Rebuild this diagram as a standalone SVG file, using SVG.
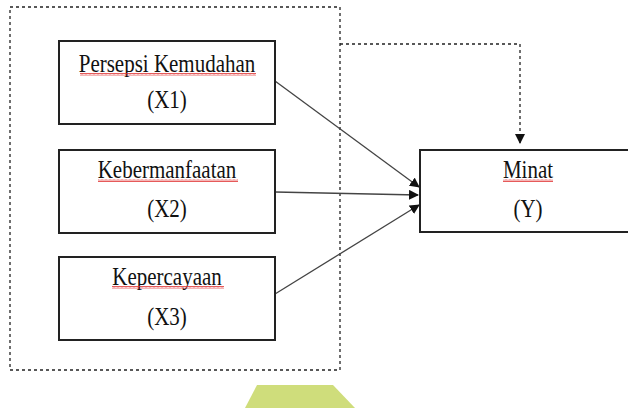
<svg xmlns="http://www.w3.org/2000/svg" width="628" height="408" viewBox="0 0 628 408">
<style>
.box{fill:#fff;stroke:#222;stroke-width:2}
.t{font-family:"Liberation Serif","Times New Roman",serif;font-size:21px;fill:#111;text-anchor:middle}
.dash{fill:none;stroke:#222;stroke-width:1.3;stroke-dasharray:3,3}
.arr{fill:none;stroke:#444;stroke-width:1.3}
</style>
<defs>
<marker id="ah" markerWidth="10" markerHeight="10" refX="9" refY="5" orient="auto" markerUnits="userSpaceOnUse">
<path d="M0,0 L10,5 L0,10 z" fill="#111"/>
</marker>
<pattern id="wave" width="4" height="3" patternUnits="userSpaceOnUse">
<path d="M0,2.5 L1,0.5 L2,2.5 L3,0.5 L4,2.5" fill="none" stroke="#e03030" stroke-width="0.8"/>
</pattern>
</defs>
<rect x="10" y="7" width="330" height="363" class="dash"/>
<polygon points="257,385 333,385 355,408 245,408" fill="#cfdd7b"/>
<g id="connectors">
<path class="dash" d="M340,44 H520 V143" marker-end="url(#ah)"/>
<line class="arr" x1="275" y1="81" x2="419" y2="187" marker-end="url(#ah)"/>
<line class="arr" x1="275" y1="192" x2="418" y2="195" marker-end="url(#ah)"/>
<line class="arr" x1="275" y1="294" x2="419" y2="205" marker-end="url(#ah)"/>
</g>
<g id="x1">
<rect class="box" x="59" y="41" width="216" height="83"/>
<text class="t" transform="translate(167,72) scale(1,1.15)">Persepsi Kemudahan</text>
<rect x="80" y="73" width="176" height="3" fill="url(#wave)"/>
<text class="t" transform="translate(167,108) scale(1,1.15)">(X1)</text>
</g>
<g id="x2">
<rect class="box" x="59" y="150" width="216" height="83"/>
<text class="t" transform="translate(167,178) scale(1,1.15)">Kebermanfaatan</text>
<rect x="98" y="179" width="140" height="3" fill="url(#wave)"/>
<text class="t" transform="translate(167,217) scale(1,1.15)">(X2)</text>
</g>
<g id="x3">
<rect class="box" x="59" y="257" width="216" height="83"/>
<text class="t" transform="translate(167,285) scale(1,1.15)">Kepercayaan</text>
<rect x="112" y="286" width="112" height="3" fill="url(#wave)"/>
<text class="t" transform="translate(167,325) scale(1,1.15)">(X3)</text>
</g>
<g id="y">
<rect class="box" x="420" y="150" width="212" height="82"/>
<text class="t" transform="translate(528,178) scale(1,1.15)">Minat</text>
<rect x="503" y="179" width="50" height="3" fill="url(#wave)"/>
<text class="t" transform="translate(528,217) scale(1,1.15)">(Y)</text>
</g>
</svg>
